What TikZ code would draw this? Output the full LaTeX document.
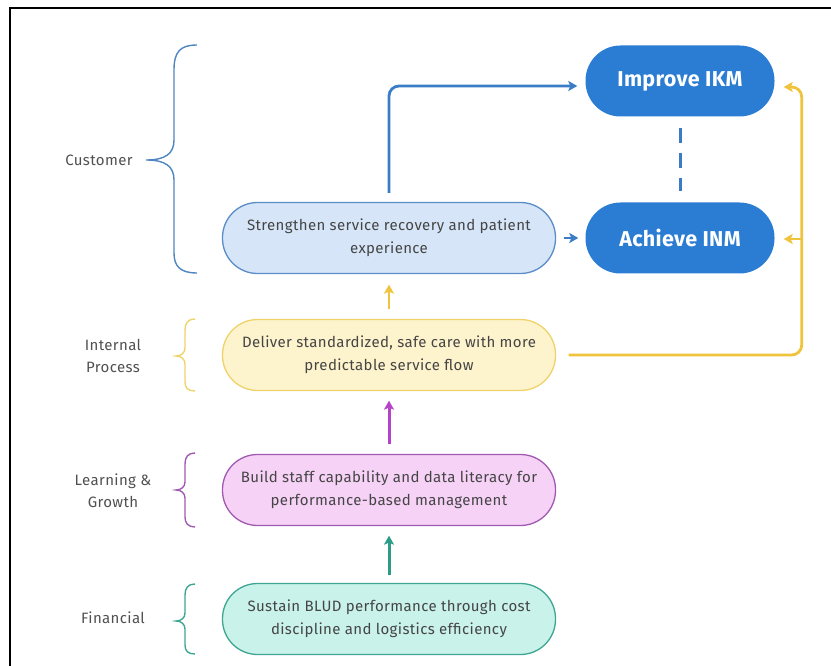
\documentclass[tikz,border=0pt]{standalone}
\usepackage{fontspec}
\setmainfont{Fira Sans}
\newfontfamily\bodyfont[LetterSpace=2.5]{Fira Sans}
\newfontfamily\kpifont[LetterSpace=1.5]{Fira Sans}
\usetikzlibrary{arrows.meta}
\definecolor{txt}{HTML}{454545}
\definecolor{lbl}{HTML}{505050}
\definecolor{kpiblue}{HTML}{2B7CD3}
\definecolor{bfill}{HTML}{D6E6F8}
\definecolor{bstroke}{HTML}{5A8CC8}
\definecolor{barr}{HTML}{3A7CC5}
\definecolor{bbrace}{HTML}{4F86C0}
\definecolor{yfill}{HTML}{FDF3CC}
\definecolor{ystroke}{HTML}{EED36A}
\definecolor{yarr}{HTML}{F0C33C}
\definecolor{pfill}{HTML}{F6D2F6}
\definecolor{pstroke}{HTML}{A05AB0}
\definecolor{parr}{HTML}{B543C8}
\definecolor{tfill}{HTML}{C9F2EA}
\definecolor{tstroke}{HTML}{3FA593}
\definecolor{tarr}{HTML}{2E9A88}
\tikzset{
  obj/.style={rectangle, rounded corners=35pt, minimum width=333pt, minimum height=71pt,
    line width=1.3pt, align=center, font=\bodyfont\fontsize{15}{23}\selectfont, text=txt, inner sep=0pt},
  kpi/.style={rectangle, rounded corners=35pt, minimum width=189pt, minimum height=71pt,
    fill=kpiblue, draw=none, text=white, font=\kpifont\fontsize{21.5}{24}\selectfont\bfseries, inner sep=0pt},
  tip/.style={-{Stealth[length=9pt,width=10pt,inset=2pt]}},
  lab/.style={text=lbl, align=center, font=\bodyfont\fontsize{15}{22}\selectfont},
  brc/.style={line width=1.4pt},
}
\begin{document}
\begin{tikzpicture}[x=1pt,y=-1pt]
\useasboundingbox (0,0) rectangle (831,666);
\draw[line width=2pt] (10,667) -- (10,8) -- (832,8);

% objective nodes
\node[obj, draw=bstroke, fill=bfill] (s) at (389,238) {Strengthen service recovery and patient\\experience};
\node[obj, draw=ystroke, fill=yfill] (d) at (389,355) {Deliver standardized, safe care with more\\predictable service flow};
\node[obj, draw=pstroke, fill=pfill] (b) at (389,490) {Build staff capability and data literacy for\\performance-based management};
\node[obj, draw=tstroke, fill=tfill] (f) at (389,619) {Sustain BLUD performance through cost\\discipline and logistics efficiency};
\node[kpi] (i) at (680,81) {Improve IKM};
\node[kpi] (a) at (680,238) {Achieve INM};

% labels
\node[lab] (lc) at (99,160) {Customer};
\node[lab] (li) at (113,356) {Internal\\Process};
\node[lab] (ll) at (113,491) {Learning \&\\Growth};
\node[lab] (lf) at (113,618) {Financial};

% braces
\draw[brc, bbrace] (197,45) .. controls (180,45) and (174,52) .. (174,70) -- (174,140)
  .. controls (174,154) and (165,160) .. (146,160)
  .. controls (165,160) and (174,166) .. (174,180) -- (174,253)
  .. controls (174,266) and (180,273) .. (197,273);
\draw[brc, ystroke] (195,319) .. controls (188,319) and (185,323) .. (185,330) -- (185,348)
  .. controls (185,353) and (181,356) .. (176,356)
  .. controls (181,356) and (185,359) .. (185,364) -- (185,382)
  .. controls (185,388) and (188,391) .. (195,391);
\draw[brc, pstroke] (195,453) .. controls (188,453) and (185,457) .. (185,464) -- (185,482)
  .. controls (185,487) and (181,490) .. (176,490)
  .. controls (181,490) and (185,493) .. (185,498) -- (185,517)
  .. controls (185,523) and (188,527) .. (195,527);
\draw[brc, tstroke] (195,584) .. controls (188,584) and (185,588) .. (185,595) -- (185,613)
  .. controls (185,618) and (181,621) .. (176,621)
  .. controls (181,621) and (185,624) .. (185,629) -- (185,645)
  .. controls (185,651) and (188,654) .. (195,654);

% connectors
\draw[barr, line width=3pt, dash pattern=on 15pt off 10pt, shorten <=11pt, shorten >=11pt] (i.south) -- (a.north);
\draw[barr, line width=2.8pt, tip, rounded corners=10pt, shorten <=9pt, shorten >=8pt] (s.north) |- ([yshift=-5pt]i.west);
\draw[barr, line width=2.5pt, tip, shorten <=8pt, shorten >=7pt] (s.east) -- (a.west);
\draw[yarr, line width=2.5pt, tip, shorten <=9.5pt, shorten >=10.5pt] (d.north) -- (s.south);
\draw[parr, line width=3pt, tip, shorten <=9.5pt, shorten >=9.5pt] (b.north) -- (d.south);
\draw[tarr, line width=3pt, tip, shorten <=7.5pt, shorten >=9.5pt] (f.north) -- (b.south);
\draw[yarr, line width=2.8pt, tip, rounded corners=10pt, shorten <=12.5pt, shorten >=9pt]
  (d.east) -| ([xshift=27pt, yshift=-6pt]i.east) -- ([yshift=-6pt]i.east);
\draw[yarr, line width=2.8pt, tip, shorten >=9pt] ([xshift=27pt, yshift=-1pt]a.east) -- ([yshift=-1pt]a.east);
\end{tikzpicture}
\end{document}
